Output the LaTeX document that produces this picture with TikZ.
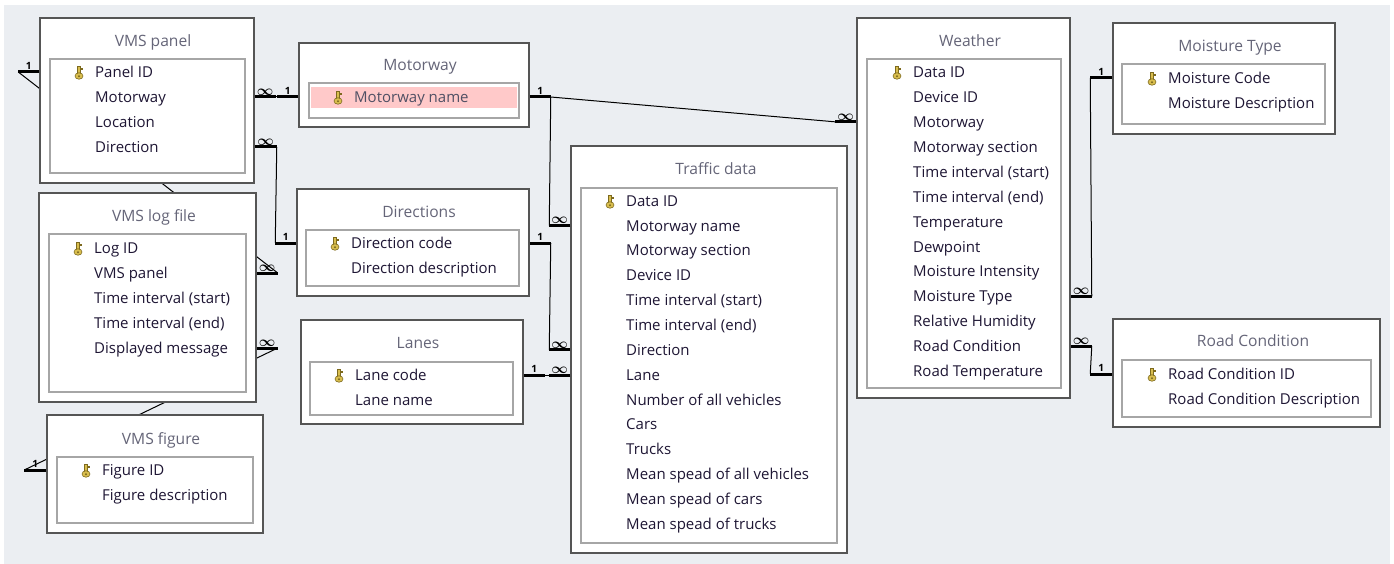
\documentclass[tikz,border=0pt]{standalone}
\usepackage{fontspec}
\setmainfont{Open Sans}
\usetikzlibrary{calc}
\definecolor{bgc}{HTML}{EBEEF2}
\definecolor{titlec}{HTML}{656578}
\definecolor{fieldc}{HTML}{1E1634}
\definecolor{pkfieldc}{HTML}{505064}
\definecolor{outerc}{HTML}{555555}
\definecolor{innerc}{HTML}{A6A6A6}
\definecolor{pinkc}{HTML}{FFC9C9}
\definecolor{keyfill}{HTML}{D9BE4E}
\definecolor{keydraw}{HTML}{7D6A1E}
\pgfdeclarelayer{back}
\pgfsetlayers{back,main}
\newcommand\infsym{{\fontsize{14}{15}\selectfont\boldmath$\infty$}}
\begin{document}
\begin{tikzpicture}[x=1pt,y=-1pt,
  outer/.style={draw=outerc, line width=1.5pt, fill=white, inner sep=0pt, minimum width=#1},
  inner/.style={draw=innerc, line width=1.2pt, fill=white, inner sep=0pt, minimum width=#1},
  ttl/.style={text=titlec, font=\fontsize{15.6}{17}\selectfont, inner sep=0pt, text height=11pt, text depth=0pt},
  fld/.style={text=fieldc, font=\fontsize{15}{17}\selectfont, anchor=west, inner sep=0pt, text height=10.8pt, text depth=0pt},
  stub/.style={line width=3pt, black},
  rel/.style={line width=1pt, black},
  lbl/.style={above=1.2pt, inner sep=0pt, font=\bfseries\fontsize{10}{11}\selectfont},
  ilbl/.style={above=0.3pt, inner sep=0pt},
  keyicon/.pic={
    \filldraw[fill=keyfill, draw=keydraw, line width=0.6pt]
      (-1.3pt,-1.5pt) rectangle (1.3pt,5.5pt);
    \filldraw[fill=keyfill, draw=keydraw, line width=0.6pt]
      (1.3pt,2.5pt) -- (3.2pt,2.5pt) -- (3.2pt,3.8pt) -- (1.3pt,3.8pt);
    \filldraw[fill=keyfill, draw=keydraw, line width=0.6pt]
      (0,-4pt) ellipse [x radius=4pt, y radius=3.2pt];
    \fill[keydraw] (0,-4.3pt) circle [radius=1.1pt];
  }]
\useasboundingbox (0,0) rectangle (1394,564);
\begin{pgfonlayer}{back}
\fill[white] (0,0) rectangle (1394,564);
\fill[bgc] (4,5) rectangle (1390,564);
\end{pgfonlayer}

% ---------- VMS panel
\node[outer=214pt, minimum height=165pt] (vp) at (147,100.5) {};
\node[inner=195pt, minimum height=114pt] (vpi) at (147.5,116) {};
\node[ttl] (vpt) at (153,41) {VMS panel};
\foreach \t [count=\i] in {Panel ID, Motorway, Location, Direction}
  \node[fld] (vp-f\i) at (95,47+25*\i) {\t};
\pic at (79,72) {keyicon};

% ---------- VMS log file
\node[outer=217pt, minimum height=209pt] (vl) at (147.5,297.5) {};
\node[inner=197pt, minimum height=158pt] (vli) at (147.5,313) {};
\node[ttl] (vlt) at (154,216) {VMS log file};
\foreach \t [count=\i] in {Log ID, VMS panel, Time interval (start), Time interval (end), Displayed message}
  \node[fld] (vl-f\i) at (94,223+25*\i) {\t};
\pic at (78,248) {keyicon};

% ---------- VMS figure
\node[outer=216pt, minimum height=118pt] (vf) at (155,474) {};
\node[inner=196pt, minimum height=66pt] (vfi) at (155,490) {};
\node[ttl] (vft) at (161,439) {VMS figure};
\foreach \t [count=\i] in {Figure ID, Figure description}
  \node[fld] (vf-f\i) at (102,445+25*\i) {\t};
\pic at (86,470) {keyicon};

% ---------- Motorway
\node[outer=230pt, minimum height=84pt] (mw) at (414,85) {};
\node[inner=210pt, minimum height=35pt] (mwi) at (414,100.5) {};
\node[fill=pinkc, minimum width=206pt, minimum height=21pt, inner sep=0pt] (mwp) at (414,97.5) {};
\node[ttl] (mwt) at (420,65) {Motorway};
\node[fld, text=pkfieldc] (mw-f1) at (354,97) {Motorway name};
\pic at (338,97) {keyicon};

% ---------- Directions
\node[outer=232pt, minimum height=107pt] (dr) at (413,242.5) {};
\node[inner=213pt, minimum height=56pt] (dri) at (412.5,258) {};
\node[ttl] (drt) at (419,212) {Directions};
\foreach \t [count=\i] in {Direction code, Direction description}
  \node[fld] (dr-f\i) at (351,218+25*\i) {\t};
\pic at (335,243) {keyicon};

% ---------- Lanes
\node[outer=222pt, minimum height=104pt] (ln) at (412,372) {};
\node[inner=203pt, minimum height=53pt] (lni) at (411.5,388.5) {};
\node[ttl] (lnt) at (418,343) {Lanes};
\foreach \t [count=\i] in {Lane code, Lane name}
  \node[fld] (ln-f\i) at (355,350+25*\i) {\t};
\pic at (339,375) {keyicon};

% ---------- Traffic data
\node[outer=276pt, minimum height=407pt] (td) at (709,349.5) {};
\node[inner=256pt, minimum height=355pt] (tdi) at (709,365.5) {};
\node[ttl] (tdt) at (716,169) {Traffic data};
\foreach \t [count=\i] in {Data ID, Motorway name, Motorway section, Device ID,
  Time interval (start), Time interval (end), Direction, Lane, Number of all vehicles,
  Cars, Trucks, Mean spead of all vehicles, Mean spead of cars, Mean spead of trucks}
  \node[fld] (td-f\i) at (626,176+24.85*\i) {\t};
\pic at (610,201) {keyicon};

% ---------- Weather
\node[outer=213pt, minimum height=380pt] (wt) at (963.5,208) {};
\node[inner=194pt, minimum height=329pt] (wti) at (964,223.5) {};
\node[ttl] (wtt) at (970,41) {Weather};
\foreach \t [count=\i] in {Data ID, Device ID, Motorway, Motorway section,
  Time interval (start), Time interval (end), Temperature, Dewpoint,
  Moisture Intensity, Moisture Type, Relative Humidity, Road Condition, Road Temperature}
  \node[fld] (wt-f\i) at (913,47+24.95*\i) {\t};
\pic at (897,72) {keyicon};

% ---------- Moisture Type
\node[outer=222pt, minimum height=111pt] (mt) at (1224,78.5) {};
\node[inner=203pt, minimum height=60pt] (mti) at (1223.5,94) {};
\node[ttl] (mtt) at (1230,46) {Moisture Type};
\foreach \t [count=\i] in {Moisture Code, Moisture Description}
  \node[fld] (mt-f\i) at (1168,53+25*\i) {\t};
\pic at (1152,78) {keyicon};

% ---------- Road Condition
\node[outer=267pt, minimum height=108pt] (rc) at (1246.5,373) {};
\node[inner=249pt, minimum height=57pt] (rci) at (1246.5,388.5) {};
\node[ttl] (rct) at (1253,341) {Road Condition};
\foreach \t [count=\i] in {Road Condition ID, Road Condition Description}
  \node[fld] (rc-f\i) at (1168,349+25*\i) {\t};
\pic at (1152,374) {keyicon};

% ---------- Relationships
% VMS panel (1) -- VMS log file (inf), drawn behind tables
\draw[stub] (vp.west |- vp-f1) -- ++(-21,0) coordinate (c1l) node[midway,lbl]{1};
\draw[stub] (vl.east |- vl-f2) -- ++(21,0) coordinate (c1r) node[midway,ilbl]{\infsym};
% VMS figure (1) -- VMS log file (inf)
\draw[stub] (vf.west |- vf-f1) -- ++(-22,0) coordinate (c2l) node[midway,lbl]{1};
\draw[stub] (vl.east |- vl-f5) -- ++(21,0) coordinate (c2r) node[midway,ilbl]{\infsym};
\begin{pgfonlayer}{back}
\draw[rel] (c1l) -- (c1r);
\draw[rel] (c2l) -- (c2r);
\end{pgfonlayer}
% VMS panel (inf) -- Motorway (1)
\draw[rel] (vp.east |- mw-f1) -- (mw.west |- mw-f1);
\draw[stub] (vp.east |- mw-f1) -- ++(21,0) node[midway,ilbl]{\infsym};
\draw[stub] (mw.west |- mw-f1) -- ++(-21,0) node[midway,lbl]{1};
% VMS panel (inf) -- Directions (1)
\draw[stub] (vp.east |- vp-f4) -- ++(22,0) coordinate (c4a) node[midway,ilbl]{\infsym};
\draw[stub] (dr.west |- dr-f1) -- ++(-21,0) coordinate (c4b) node[midway,lbl]{1};
\draw[rel] (c4a) -- (c4b);
% Motorway (1) -- Traffic data (inf)
\draw[stub] (mw.east |- mw-f1) -- ++(21,0) coordinate (c5a) node[midway,lbl]{1};
\draw[stub] (td.west |- td-f2) -- ++(-21,0) coordinate (c5b) node[midway,ilbl]{\infsym};
\draw[rel] (c5a) -- (c5b);
% Motorway (1) -- Weather (inf)
\draw[stub] (wt.west |- wt-f3) -- ++(-21,0) coordinate (c6b) node[midway,ilbl]{\infsym};
\draw[rel] (c5a) -- (c6b);
% Directions (1) -- Traffic data (inf)
\draw[stub] (dr.east |- dr-f1) -- ++(21,0) coordinate (c7a) node[midway,lbl]{1};
\draw[stub] (td.west |- td-f7) -- ++(-21,0) coordinate (c7b) node[midway,ilbl]{\infsym};
\draw[rel] (c7a) -- (c7b);
% Lanes (1) -- Traffic data (inf)
\draw[stub] (ln.east |- ln-f1) -- ++(21,0) coordinate (c8a) node[midway,lbl]{1};
\draw[stub] (td.west |- ln-f1) -- ++(-21,0) coordinate (c8b) node[midway,ilbl]{\infsym};
\draw[rel] (c8a) -- (c8b);
% Weather (inf) -- Moisture Type (1)
\draw[stub] (wt.east |- wt-f10) -- ++(21,0) coordinate (c9a) node[midway,ilbl]{\infsym};
\draw[stub] (mt.west |- mt-f1) -- ++(-22,0) coordinate (c9b) node[midway,lbl]{1};
\draw[rel] (c9a) -- (c9b);
% Weather (inf) -- Road Condition (1)
\draw[stub] (wt.east |- wt-f12) -- ++(21,0) coordinate (c10a) node[midway,ilbl]{\infsym};
\draw[stub] (rc.west |- rc-f1) -- ++(-22,0) coordinate (c10b) node[midway,lbl]{1};
\draw[rel] (c10a) -- (c10b);
\end{tikzpicture}
\end{document}
